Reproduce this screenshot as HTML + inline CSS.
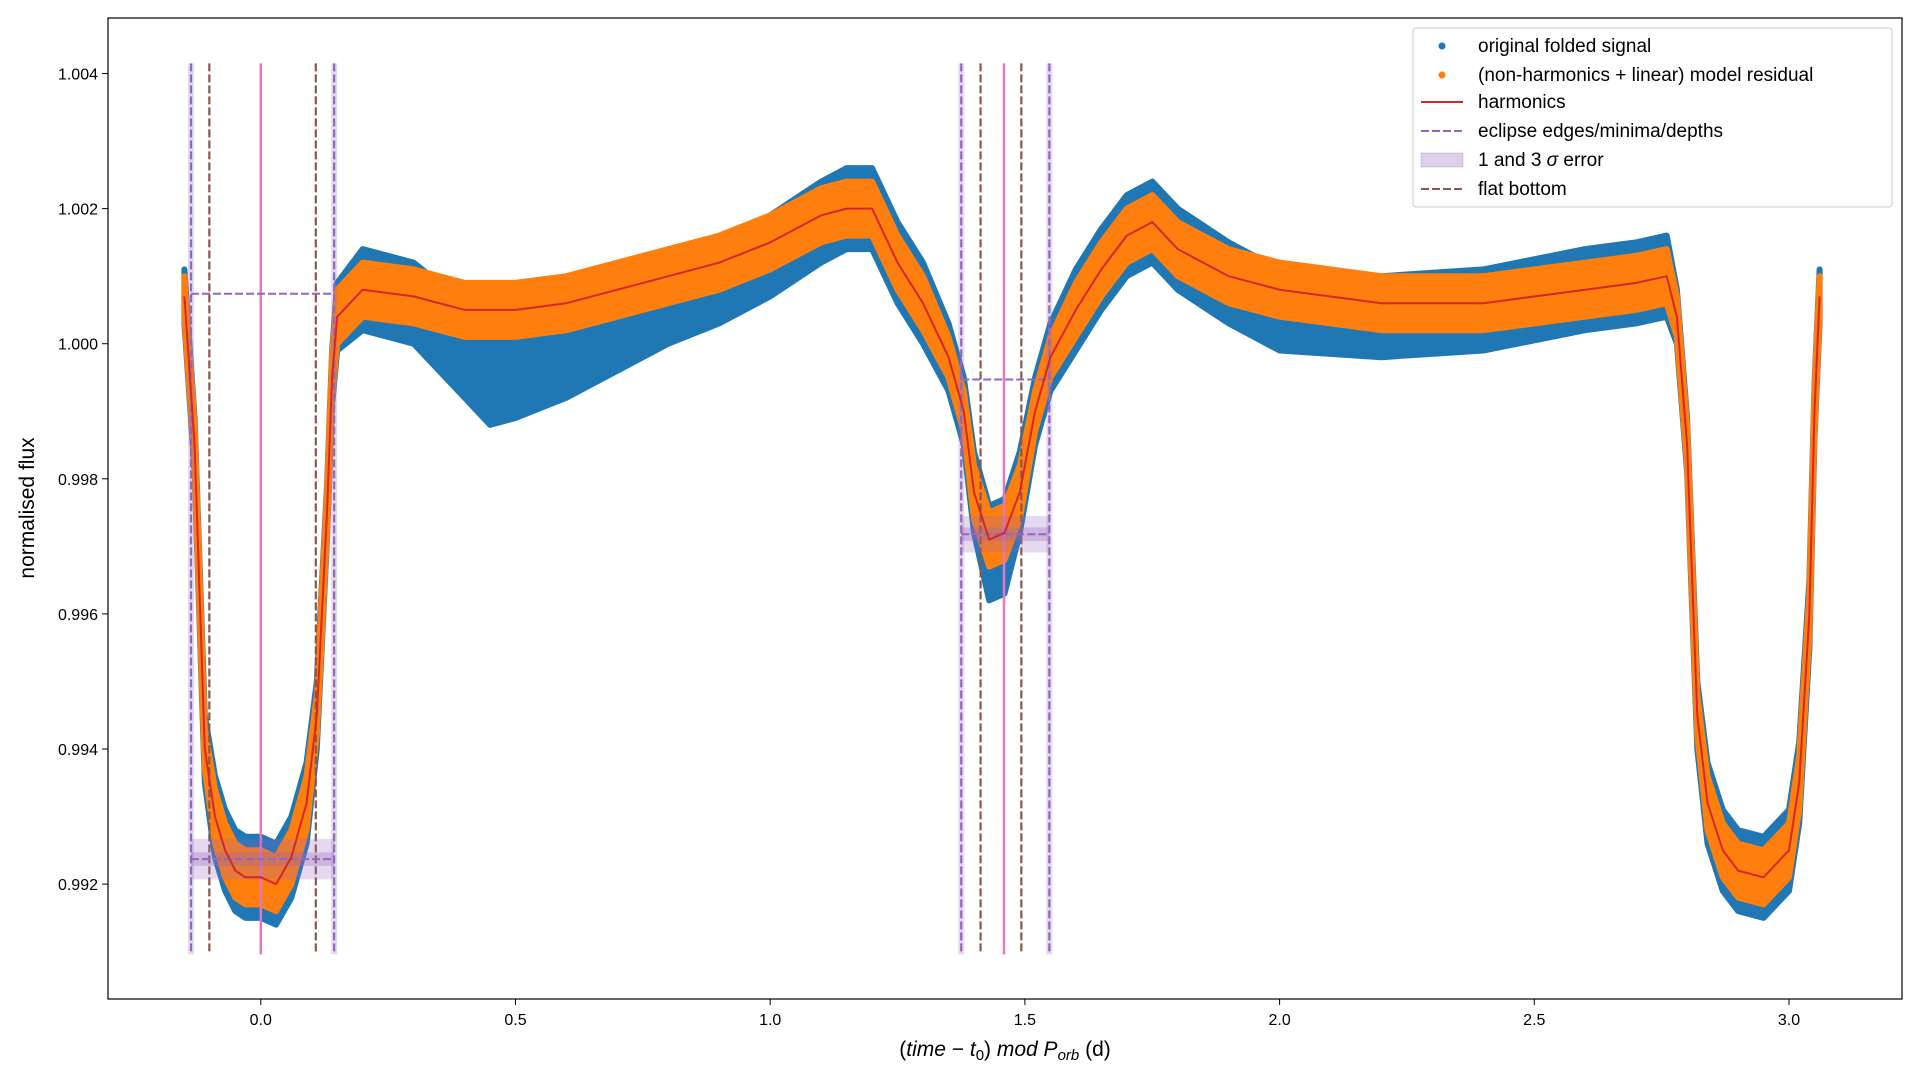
<!DOCTYPE html>
<html><head><meta charset="utf-8"><style>
html,body{margin:0;padding:0;background:#fff;}
svg{display:block;font-family:"Liberation Sans","DejaVu Sans",sans-serif;}
</style></head><body>
<svg id="chart" width="1920" height="1080" viewBox="0 0 1920 1080" xmlns="http://www.w3.org/2000/svg"></svg>
<script>
const phase   = [-0.15,-0.13,-0.11,-0.09,-0.07,-0.05,-0.03,0.0,0.03,0.06,0.09,0.11,0.13,0.14,0.15,0.2,0.3,0.4,0.45,0.5,0.6,0.7,0.8,0.9,1.0,1.1,1.15,1.2,1.25,1.3,1.35,1.38,1.4,1.43,1.46,1.49,1.52,1.55,1.6,1.65,1.7,1.75,1.8,1.9,2.0,2.2,2.4,2.6,2.7,2.76,2.78,2.8,2.82,2.84,2.87,2.9,2.95,3.0,3.02,3.04,3.05,3.06];
const harmonics=[1.0007,0.9985,0.9940,0.9930,0.9925,0.9922,0.9921,0.9921,0.9920,0.9924,0.9932,0.9945,0.9975,0.9995,1.0004,1.0008,1.0007,1.0005,1.0005,1.0005,1.0006,1.0008,1.0010,1.0012,1.0015,1.0019,1.0020,1.0020,1.0012,1.0006,0.9998,0.9990,0.9978,0.9971,0.9972,0.9978,0.9990,0.9998,1.0005,1.0011,1.0016,1.0018,1.0014,1.0010,1.0008,1.0006,1.0006,1.0008,1.0009,1.0010,1.0004,0.9985,0.9945,0.9932,0.9925,0.9922,0.9921,0.9925,0.9935,0.9960,0.9990,1.0007];
const residualSpread=[0.0003,0.0003,0.0003,0.0004,0.0004,0.0004,0.0004,0.0004,0.0004,0.0004,0.0004,0.0003,0.0003,0.0003,0.0004,0.0004,0.0004,0.0004,0.0004,0.0004,0.0004,0.0004,0.0004,0.0004,0.0004,0.0004,0.0004,0.0004,0.0004,0.0004,0.0003,0.0003,0.0004,0.0004,0.0004,0.0004,0.0003,0.0003,0.0004,0.0004,0.0004,0.0004,0.0004,0.0004,0.0004,0.0004,0.0004,0.0004,0.0004,0.0004,0.0003,0.0003,0.0003,0.0004,0.0004,0.0004,0.0004,0.0004,0.0004,0.0003,0.0003,0.0003];
const originalShift=[0,0,0,0,0,0,0,0,0,0,0,0,0,0,0,0,-0.0001,-0.0006,-0.0010,-0.0009,-0.0007,-0.0005,-0.0004,-0.0003,-0.0002,-0.0001,0,0,0,0,0,0,0,-0.0002,-0.0002,0,0,0,0,0,0,0,0,-0.0001,-0.0003,-0.0002,-0.0001,0,0,0,0,0,0,0,0,0,0,0,0,0,0,0];
const originalSpread=[0.0004,0.0004,0.0005,0.0006,0.0006,0.0006,0.0006,0.0006,0.0006,0.0006,0.0006,0.0005,0.0004,0.0004,0.0005,0.0006,0.0006,0.0007,0.0007,0.0007,0.0007,0.0007,0.0006,0.0006,0.0006,0.0006,0.0006,0.0006,0.0006,0.0006,0.0005,0.0005,0.0006,0.0007,0.0007,0.0006,0.0005,0.0005,0.0006,0.0006,0.0006,0.0006,0.0006,0.0006,0.0006,0.0006,0.0006,0.0006,0.0006,0.0006,0.0004,0.0004,0.0005,0.0006,0.0006,0.0006,0.0006,0.0006,0.0006,0.0005,0.0004,0.0004];
const edgeLines=[-0.137,0.144,1.375,1.548];
const flatBottomLines=[-0.101,0.108,1.413,1.493];
const minimaLines=[0.0,1.459];
const depthStarts=[-0.137,1.375];
const depthEnds=[0.144,1.548];
const depthLevels=[0.99237,0.99718];
const depthTops=[1.00074,0.99947];
const depthErr1=[0.0001,0.0001];
const depthErr3=[0.0003,0.00027];
const xTicks=[0.0,0.5,1.0,1.5,2.0,2.5,3.0];
const yTicks=[0.992,0.994,0.996,0.998,1.000,1.002,1.004];

const L=108,R=1902,T=18,B=999;
const X=v=>260.8+v*509.4;
const Y=v=>73.5+(1.004-v)*67550;
const svg=document.getElementById('chart');
const NS='http://www.w3.org/2000/svg';
function mk(tag,attrs,parent){const e=document.createElementNS(NS,tag);for(const k in attrs)e.setAttribute(k,attrs[k]);(parent||svg).appendChild(e);return e;}

const clip=mk('clipPath',{id:'pc'});mk('rect',{x:L,y:T,width:R-L,height:B-T},clip);
const g=mk('g',{'clip-path':'url(#pc)'});



function band(lo,hi,color,name){
  let d='M'+phase.map((p,i)=>X(p).toFixed(1)+','+Y(hi[i]).toFixed(1)).join('L');
  for(let i=phase.length-1;i>=0;i--)d+='L'+X(phase[i]).toFixed(1)+','+Y(lo[i]).toFixed(1);
  const e=mk('path',{d:d+'Z',fill:color,stroke:color,'stroke-width':6,'stroke-linejoin':'round'},g);
  
  
}
band(harmonics.map((h,i)=>h+originalShift[i]-originalSpread[i]),harmonics.map((h,i)=>h+originalShift[i]+originalSpread[i]),'#1f77b4','original-folded-signal');
band(harmonics.map((h,i)=>h-residualSpread[i]),harmonics.map((h,i)=>h+residualSpread[i]),'#ff7f0e','model-residual');

const vTop=Y(1.00415),vBot=Y(0.99096);
edgeLines.forEach(v=>{
  const r=mk('rect',{x:X(v)-3,y:vTop,width:6,height:vBot-vTop,fill:'#9467bd',opacity:0.25},g);
  
  
  const l=mk('line',{x1:X(v),x2:X(v),y1:vTop,y2:vBot,stroke:'#9467bd','stroke-width':2.2,'stroke-dasharray':'8,3'},g);
  
  
});
flatBottomLines.forEach(v=>{
  const l=mk('line',{x1:X(v),x2:X(v),y1:vTop,y2:vBot,stroke:'#8c564b','stroke-width':2.2,'stroke-dasharray':'8,3'},g);
  
  
});
minimaLines.forEach(v=>{
  const l=mk('line',{x1:X(v),x2:X(v),y1:vTop,y2:vBot,stroke:'#e377c2','stroke-width':2.5},g);
  
  
});
depthLevels.forEach((d,i)=>{
  const x1=X(depthStarts[i]),x2=X(depthEnds[i]);
  const r3=mk('rect',{x:x1,y:Y(d+depthErr3[i]),width:x2-x1,height:Y(d-depthErr3[i])-Y(d+depthErr3[i]),fill:'#9467bd',opacity:0.25},g);
  
  
  const r1=mk('rect',{x:x1,y:Y(d+depthErr1[i]),width:x2-x1,height:Y(d-depthErr1[i])-Y(d+depthErr1[i]),fill:'#9467bd',opacity:0.3},g);
  
  
  const l=mk('line',{x1:x1,x2:x2,y1:Y(d),y2:Y(d),stroke:'#9467bd','stroke-width':2,'stroke-dasharray':'8,3'},g);
  
  
  const t=mk('line',{x1:x1,x2:x2,y1:Y(depthTops[i]),y2:Y(depthTops[i]),stroke:'#9467bd','stroke-width':2,'stroke-dasharray':'8,3'},g);
  
  
});
const hp=mk('polyline',{points:phase.map((p,i)=>X(p).toFixed(1)+','+Y(harmonics[i]).toFixed(1)).join(' '),fill:'none',stroke:'#d62728','stroke-width':2,'stroke-linejoin':'round'},g);



const frame=mk('rect',{x:L,y:T,width:R-L,height:B-T,fill:'none',stroke:'#000','stroke-width':1.2});



xTicks.forEach(v=>{
  mk('line',{x1:X(v),x2:X(v),y1:B,y2:B+6,stroke:'#000','stroke-width':1});
  const t=mk('text',{x:X(v),y:B+26,'text-anchor':'middle','font-size':16});
  t.textContent=v.toFixed(1);
  
  
});
yTicks.forEach(v=>{
  mk('line',{x1:L-6,x2:L,y1:Y(v),y2:Y(v),stroke:'#000','stroke-width':1});
  const t=mk('text',{x:L-10,y:Y(v)+6,'text-anchor':'end','font-size':16});
  t.textContent=v.toFixed(3);
  
  
});
</script>
<svg style="position:absolute;left:0;top:0" width="1920" height="1080" xmlns="http://www.w3.org/2000/svg">
<text x="1005" y="1056" text-anchor="middle" font-size="21" font-family="Liberation Sans, sans-serif">(<tspan font-style="italic">time</tspan> − <tspan font-style="italic">t</tspan><tspan font-size="15" dy="4">0</tspan><tspan dy="-4">) </tspan><tspan font-style="italic">mod P</tspan><tspan font-size="15" font-style="italic" dy="4">orb</tspan><tspan dy="-4"> (d)</tspan></text>
<text x="34" y="508" text-anchor="middle" font-size="21" font-family="Liberation Sans, sans-serif" transform="rotate(-90 34 508)">normalised flux</text>
<g font-family="Liberation Sans, sans-serif" font-size="19">
<rect x="1413" y="28" width="479" height="179" rx="3" fill="#fff" fill-opacity="0.85" stroke="#ccc"/>
<circle cx="1442" cy="46" r="3.5" fill="#1f77b4"/><text x="1478" y="52">original folded signal</text>
<circle cx="1442" cy="75" r="3.5" fill="#ff7f0e"/><text x="1478" y="81">(non-harmonics + linear) model residual</text>
<line x1="1421" x2="1463" y1="102" y2="102" stroke="#d62728" stroke-width="2"/><text x="1478" y="108">harmonics</text>
<line x1="1421" x2="1463" y1="131" y2="131" stroke="#9467bd" stroke-width="2" stroke-dasharray="8,3"/><text x="1478" y="137">eclipse edges/minima/depths</text>
<rect x="1421" y="153" width="42" height="14" fill="#9467bd" fill-opacity="0.3" stroke="#9467bd" stroke-opacity="0.3"/><text x="1478" y="166">1 and 3 <tspan font-style="italic">σ</tspan> error</text>
<line x1="1421" x2="1463" y1="189" y2="189" stroke="#8c564b" stroke-width="2" stroke-dasharray="8,3"/><text x="1478" y="195">flat bottom</text>
</g>
</svg>
</body></html>
